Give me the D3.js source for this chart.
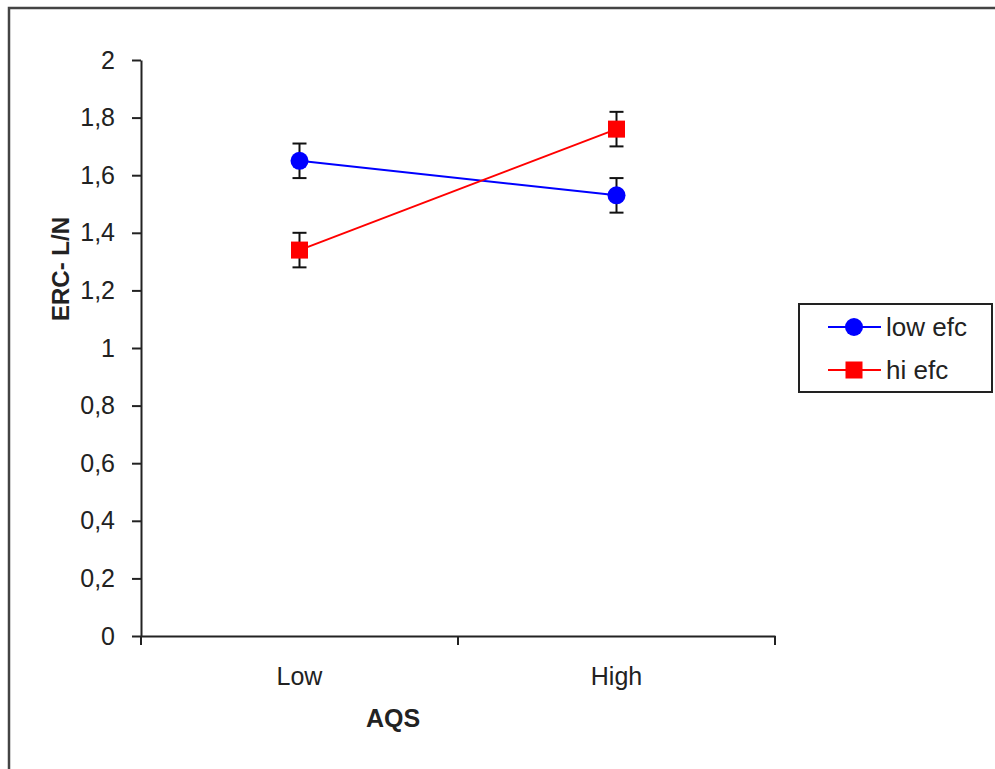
<!DOCTYPE html>
<html>
<head>
<meta charset="utf-8">
<script src="https://cdn.jsdelivr.net/npm/d3@7"></script>
<style>
  body { margin: 0; background: #fff; }
  text { font-family: "Liberation Sans", Arial, sans-serif; fill: #222; }
</style>
</head>
<body>
<svg id="chart" width="995" height="769"></svg>
<script>
// chart data
const categories = ["Low", "High"];
const yTicks = [0, 0.2, 0.4, 0.6, 0.8, 1, 1.2, 1.4, 1.6, 1.8, 2];
const lowEfc = [1.65, 1.53];
const hiEfc = [1.34, 1.76];
const lowEfcErr = [0.06, 0.06];
const hiEfcErr = [0.06, 0.06];

const series = [
    { name: "low efc", values: lowEfc, err: lowEfcErr, color: "#0000ff", shape: "circle" },
    { name: "hi efc", values: hiEfc, err: hiEfcErr, color: "#ff0000", shape: "square" }
];

const svg = d3.select("#chart");

// outer frame (right and bottom edges run off the picture)
svg.append("path")
    .attr("d", "M9,1000 L9,8 L1000,8")
    .attr("fill", "none")
    .attr("stroke", "#444")
    .attr("stroke-width", 2.5);

const plot = { left: 141, right: 775, top: 60, bottom: 636 };

const x = d3.scaleBand()
    .domain(categories)
    .range([plot.left, plot.right])
    .padding(0);

const y = d3.scaleLinear()
    .domain([0, 2])
    .range([plot.bottom, plot.top]);

const locale = d3.formatLocale({ decimal: ",", thousands: ".", grouping: [3], currency: ["", ""] });
const fmt = locale.format(".1~f");

// y axis
const yAxis = svg.append("g")
    .attr("transform", `translate(${plot.left},0)`)
    .call(d3.axisLeft(y).tickValues(yTicks).tickFormat(fmt).tickSize(9).tickSizeOuter(0).tickPadding(17));
yAxis.select(".domain").attr("stroke", "#222").attr("stroke-width", 2);
yAxis.selectAll(".tick line").attr("stroke", "#222").attr("stroke-width", 2);
yAxis.selectAll(".tick text")
    .style("font-size", "25px")
    .style("font-family", "'Liberation Sans', Arial, sans-serif")
    .attr("fill", "#222");

// x axis
const xAxis = svg.append("g")
    .attr("transform", `translate(0,${plot.bottom})`)
    .call(d3.axisBottom(x).tickSize(0).tickSizeOuter(0).tickPadding(31));
xAxis.select(".domain").attr("stroke", "#222").attr("stroke-width", 2);
xAxis.selectAll(".tick text")
    .style("font-size", "25px")
    .style("font-family", "'Liberation Sans', Arial, sans-serif")
    .attr("fill", "#222");

// category boundary ticks
const boundaries = [x(categories[0])].concat(categories.map(c => x(c) + x.bandwidth()));
xAxis.selectAll(".bound")
    .data(boundaries)
    .enter().append("line")
    .attr("x1", d => d).attr("x2", d => d)
    .attr("y1", 0).attr("y2", 9)
    .attr("stroke", "#222")
    .attr("stroke-width", 2);

// axis titles
svg.append("text")
    .attr("x", 393)
    .attr("y", 727)
    .attr("text-anchor", "middle")
    .style("font-size", "25px")
    .style("font-weight", "bold")
    .text("AQS");

svg.append("text")
    .attr("transform", "translate(69,269) rotate(-90)")
    .attr("text-anchor", "middle")
    .style("font-size", "24px")
    .style("font-weight", "bold")
    .text("ERC- L/N");

const cx = c => x(c) + x.bandwidth() / 2;

// lines
const line = d3.line()
    .x((d, i) => cx(categories[i]))
    .y(d => y(d));

series.forEach(s => {
    svg.append("path")
        .datum(s.values)
        .attr("fill", "none")
        .attr("stroke", s.color)
        .attr("stroke-width", 2)
        .attr("d", line);
});

// error bars
series.forEach(s => {
    const g = svg.append("g").attr("stroke", "#111").attr("stroke-width", 2);
    s.values.forEach((v, i) => {
        const px = cx(categories[i]);
        const lo = y(v - s.err[i]);
        const hi = y(v + s.err[i]);
        g.append("line").attr("x1", px).attr("x2", px).attr("y1", lo).attr("y2", hi);
        g.append("line").attr("x1", px - 7).attr("x2", px + 7).attr("y1", lo).attr("y2", lo);
        g.append("line").attr("x1", px - 7).attr("x2", px + 7).attr("y1", hi).attr("y2", hi);
    });
});

// markers
function drawMarker(sel, shape, color, px, py) {
    if (shape === "circle") {
        sel.append("circle").attr("cx", px).attr("cy", py).attr("r", 9).attr("fill", color);
    } else {
        sel.append("rect").attr("x", px - 8.5).attr("y", py - 8.5)
            .attr("width", 17).attr("height", 17).attr("fill", color);
    }
}

series.forEach(s => {
    s.values.forEach((v, i) => drawMarker(svg, s.shape, s.color, cx(categories[i]), y(v)));
});

// legend
const legend = svg.append("g");
legend.append("rect")
    .attr("x", 799).attr("y", 304)
    .attr("width", 193).attr("height", 88)
    .attr("fill", "#fff")
    .attr("stroke", "#222")
    .attr("stroke-width", 2);

series.forEach((s, i) => {
    const ly = 327 + i * 43;
    legend.append("line")
        .attr("x1", 828).attr("x2", 881)
        .attr("y1", ly).attr("y2", ly)
        .attr("stroke", s.color)
        .attr("stroke-width", 2);
    drawMarker(legend, s.shape, s.color, 854, ly);
    legend.append("text")
        .attr("x", 886)
        .attr("y", ly + 9)
        .style("font-size", "26px")
        .text(s.name);
});
</script>
</body>
</html>
